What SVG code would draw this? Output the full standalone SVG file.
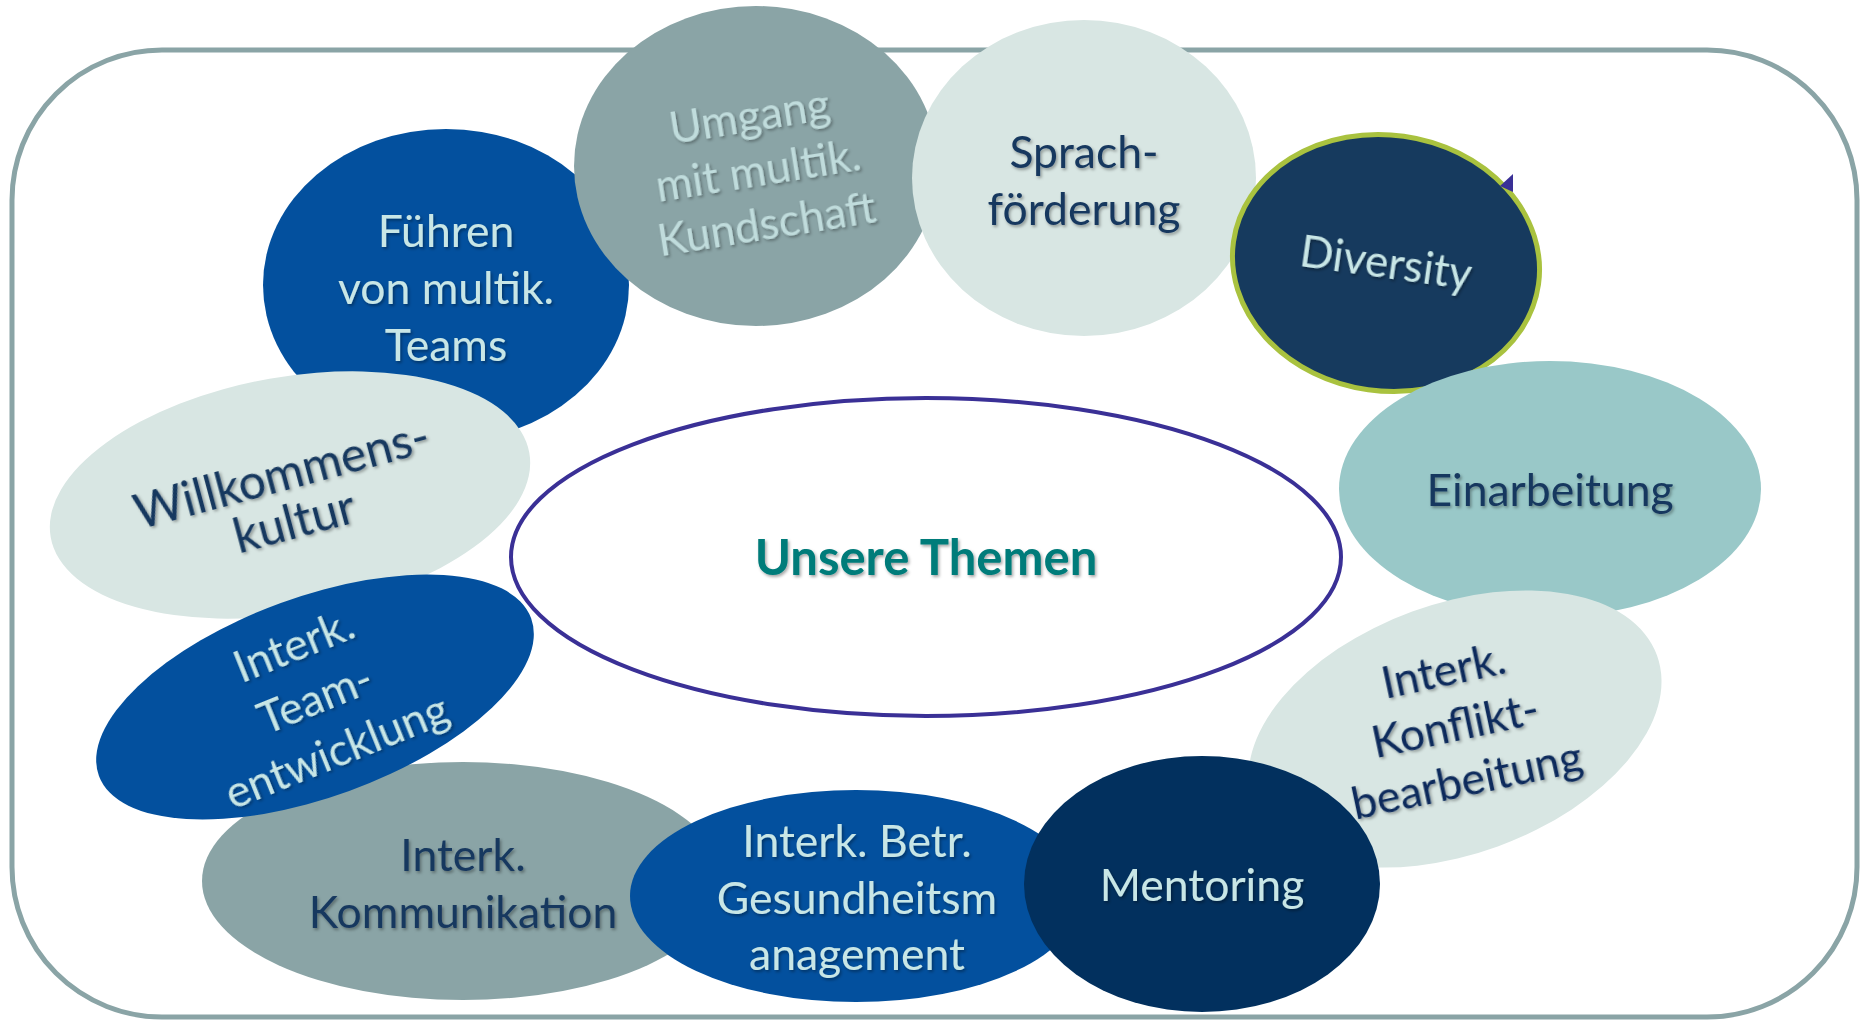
<svg xmlns="http://www.w3.org/2000/svg" width="1861" height="1021" viewBox="0 0 1861 1021">
<defs>
<filter id="sh" x="-10%" y="-10%" width="130%" height="140%">
<feDropShadow dx="1.5" dy="2" stdDeviation="1.5" flood-color="#000" flood-opacity="0.35"/>
</filter>
</defs>
<style>
text{font-family:Lato,"Open Sans","Liberation Sans",sans-serif;font-size:44.5px;text-anchor:middle;filter:url(#sh)}
.dk{fill:#17375E}
.lt{fill:#C8E6E6}
.ul{fill:#C0DCDC}
.gray{fill:#8AA4A6}
.pale{fill:#D8E6E3}
.blue{fill:#03509E}
.navy{fill:#02305E}
</style>
<rect x="12" y="50" width="1845" height="967" rx="150" ry="150" fill="#fff" stroke="#8AA4A6" stroke-width="5"/>
<g id="center">
<ellipse cx="926" cy="557" rx="415" ry="159" fill="#fff" stroke="#3A3096" stroke-width="4"/>
<text x="926" y="575" style="font-weight:bold;font-size:49px;fill:#007B7A">Unsere Themen</text>
</g>
<g id="fuehren">
<ellipse class="blue" cx="446" cy="285" rx="183" ry="156"/>
<text class="lt" x="446" y="247">Führen</text>
<text class="lt" x="446" y="304">von multik.</text>
<text class="lt" x="446" y="361">Teams</text>
</g>
<g id="willkommen">
<ellipse class="pale" cx="290" cy="495" rx="243" ry="118" transform="rotate(-10 290 495)"/>
<g transform="rotate(-15 288 498)">
<text class="dk" x="288" y="490" style="font-size:48px">Willkommens-</text>
<text class="dk" x="288" y="539" style="font-size:48px">kultur</text>
</g>
</g>
<g id="kommunikation">
<ellipse class="gray" cx="463" cy="881" rx="261" ry="119"/>
<text class="dk" x="463" y="871">Interk.</text>
<text class="dk" x="463" y="928">Kommunikation</text>
</g>
<g id="teamentwicklung">
<ellipse class="blue" cx="315" cy="697" rx="230" ry="100" transform="rotate(-20 315 697)"/>
<g transform="rotate(-22 315 698)">
<text class="lt" x="315" y="657">Interk.</text>
<text class="lt" x="315" y="714">Team-</text>
<text class="lt" x="315" y="771">entwicklung</text>
</g>
</g>
<g id="gesundheit">
<ellipse class="blue" cx="856" cy="896" rx="226" ry="106"/>
<text class="lt" x="857" y="857">Interk. Betr.</text>
<text class="lt" x="857" y="914">Gesundheitsm</text>
<text class="lt" x="857" y="970">anagement</text>
</g>
<g id="umgang">
<ellipse class="gray" cx="756" cy="166" rx="182" ry="160"/>
<g transform="rotate(-9 758 170)">
<text class="ul" x="758" y="131">Umgang</text>
<text class="ul" x="758" y="186">mit multik.</text>
<text class="ul" x="758" y="240">Kundschaft</text>
</g>
</g>
<g id="sprach">
<ellipse class="pale" cx="1084" cy="178" rx="172" ry="158"/>
<text class="dk" x="1084" y="168">Sprach-</text>
<text class="dk" x="1084" y="225">förderung</text>
</g>
<g id="diversity">
<ellipse cx="1386" cy="263" rx="154" ry="128" transform="rotate(8 1386 263)" fill="#163A5E" stroke="#A9C23F" stroke-width="5"/>
<polygon points="1500,186 1513,174 1513,192" fill="#3A3096"/>
<text class="lt" x="1386" y="278" transform="rotate(8 1386 263)" style="font-size:44px">Diversity</text>
</g>
<g id="einarbeitung">
<ellipse cx="1550" cy="489" rx="211" ry="128" fill="#99C8C8"/>
<text class="dk" x="1550" y="506">Einarbeitung</text>
</g>
<g id="konflikt">
<ellipse class="pale" cx="1455" cy="729" rx="215" ry="125" transform="rotate(-20 1455 729)"/>
<g transform="rotate(-12 1455 725)">
<text x="1455" y="685" style="fill:#0D2B5C">Interk.</text>
<text x="1455" y="741" style="fill:#0D2B5C">Konflikt-</text>
<text x="1455" y="797" style="fill:#0D2B5C">bearbeitung</text>
</g>
</g>
<g id="mentoring">
<ellipse class="navy" cx="1202" cy="884" rx="178" ry="128"/>
<text class="lt" x="1202" y="901">Mentoring</text>
</g>
<g id="connectors"></g>
</svg>
